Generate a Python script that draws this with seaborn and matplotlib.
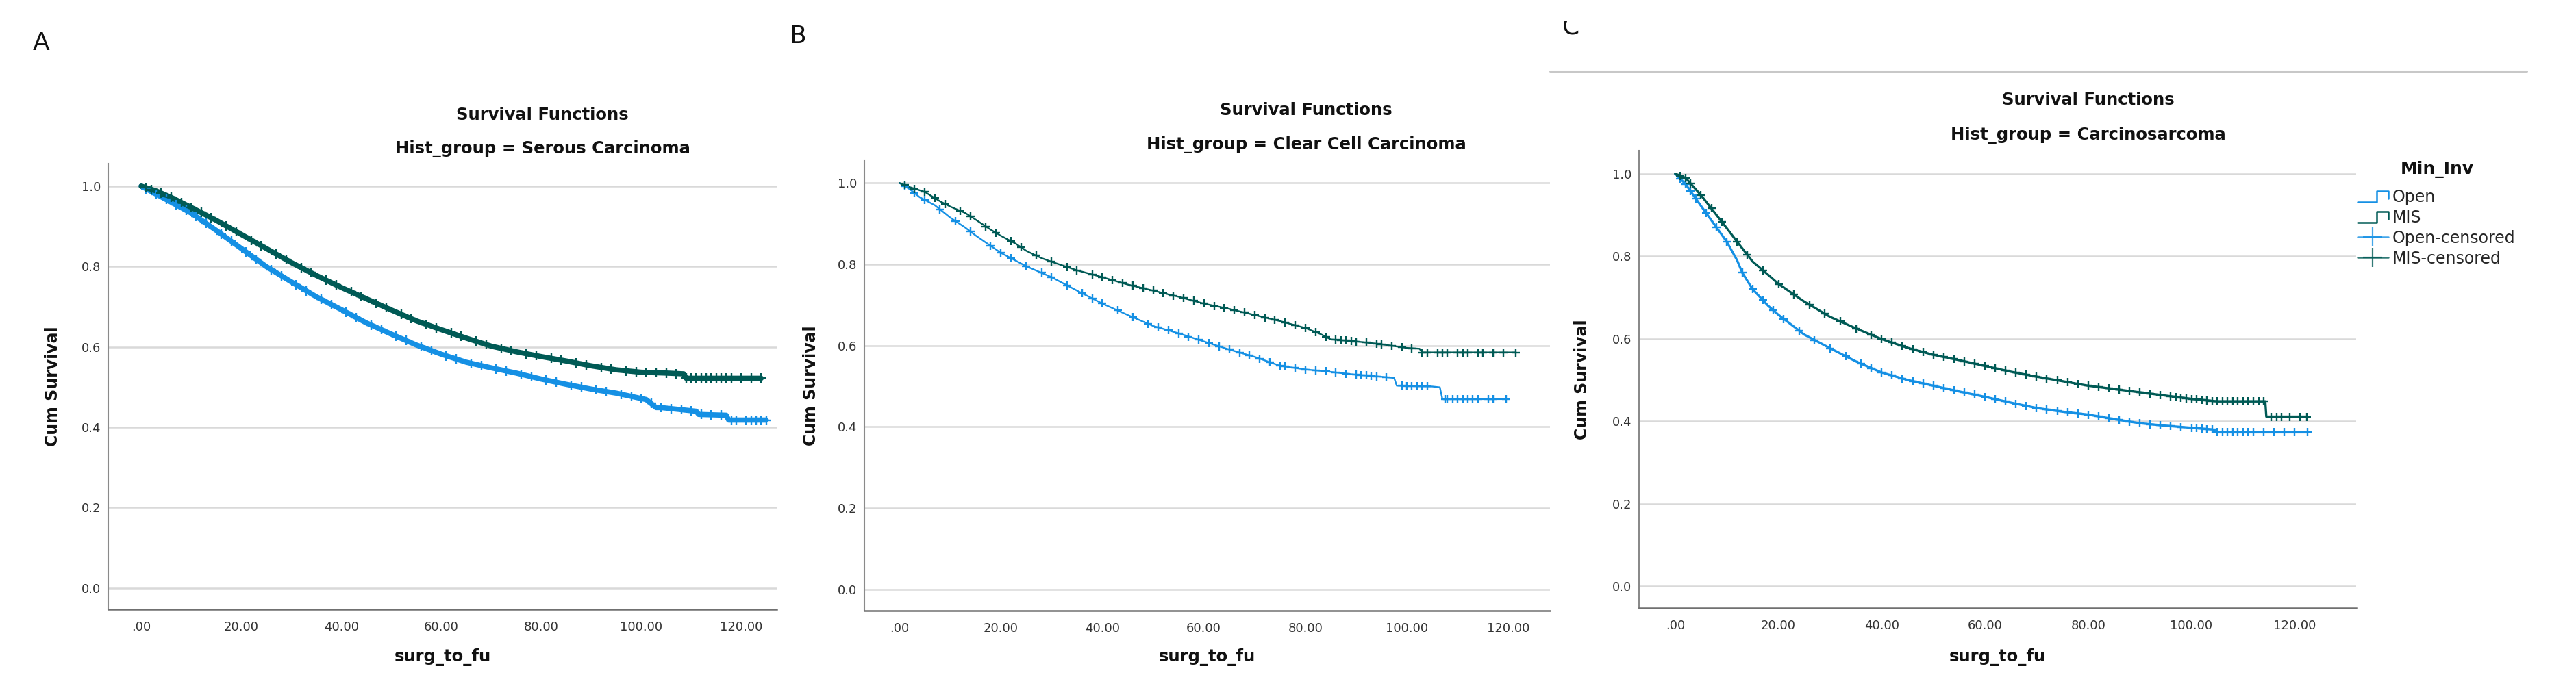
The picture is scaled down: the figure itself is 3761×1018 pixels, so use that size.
import numpy as np
import pandas as pd
import matplotlib
matplotlib.use("Agg")
import matplotlib.pyplot as plt
import seaborn as sns
from matplotlib.lines import Line2D
from matplotlib.legend_handler import HandlerBase
from matplotlib.patches import Rectangle

# ---------------- data ----------------
panel_letters = ["A", "B", "C"]
hist_groups = ["Serous Carcinoma", "Clear Cell Carcinoma", "Carcinosarcoma"]
groups = ["Open", "MIS"]
legend_title = "Min_Inv"
legend_labels = ["Open", "MIS", "Open-censored", "MIS-censored"]
xtick_vals = [0, 20, 40, 60, 80, 100, 120]
xtick_labels = [".00", "20.00", "40.00", "60.00", "80.00", "100.00", "120.00"]
ytick_vals = [0.0, 0.2, 0.4, 0.6, 0.8, 1.0]
ytick_labels = ["0.0", "0.2", "0.4", "0.6", "0.8", "1.0"]

# Panel A - Serous Carcinoma  (time, cumulative survival); repeated times are vertical drops
A_open_t = [0, 3, 6, 10, 15, 20, 25, 30, 35, 40, 45, 50, 55, 60, 65, 70, 75, 80, 85, 90, 95, 101, 103, 104, 111,
            111.5, 117, 117.5, 125]
A_open_s = [1.0, 0.98, 0.96, 0.933, 0.89, 0.845, 0.80, 0.762, 0.725, 0.693, 0.66, 0.632, 0.605, 0.582, 0.562, 0.548,
            0.535, 0.52, 0.507, 0.495, 0.485, 0.469, 0.449, 0.449, 0.44, 0.432, 0.43, 0.418, 0.418]
A_open_cens = [1, 3, 5, 7, 9, 11, 13, 16, 18, 21, 23, 26, 28, 31, 33, 36, 38, 41, 43, 46, 48, 51, 53, 56, 58, 61, 63,
               66, 68, 71, 73, 76, 78, 81, 83, 86, 88, 91, 93, 96, 98, 100, 102, 104, 106, 108, 110, 112, 114, 116,
               118, 119, 121, 122, 123, 124, 125]
A_mis_t = [0, 3, 6, 10, 15, 20, 25, 30, 35, 40, 45, 50, 55, 60, 65, 70, 75, 80, 85, 90, 95, 100, 105, 108.5, 109, 124]
A_mis_s = [1.0, 0.988, 0.972, 0.947, 0.915, 0.88, 0.845, 0.81, 0.778, 0.748, 0.72, 0.692, 0.665, 0.643, 0.622,
           0.602, 0.588, 0.576, 0.565, 0.553, 0.543, 0.537, 0.535, 0.533, 0.522, 0.522]
A_mis_cens = [1, 2, 4, 6, 8, 10, 12, 14, 17, 19, 22, 24, 27, 29, 32, 34, 37, 39, 42, 44, 47, 49, 52, 54, 57, 59, 62,
              64, 67, 69, 72, 74, 77, 79, 82, 84, 87, 89, 92, 94, 97, 99, 101, 103, 105, 107, 109, 110, 111, 112,
              113, 114, 115, 116, 117, 118, 120, 122, 124]

# Panel B - Clear Cell Carcinoma
B_open_t = [0, 2, 4, 7, 10, 13, 15, 18, 20, 25, 30, 35, 40, 45, 50, 55, 60, 65, 70, 75, 80, 85, 90, 95, 97.5, 98,
            105, 106.5, 107, 119.5]
B_open_s = [1.0, 0.985, 0.965, 0.945, 0.915, 0.89, 0.871, 0.845, 0.828, 0.795, 0.768, 0.735, 0.703, 0.675, 0.648,
            0.63, 0.61, 0.59, 0.572, 0.55, 0.541, 0.535, 0.528, 0.523, 0.52, 0.501, 0.499, 0.497, 0.468, 0.468]
B_open_cens = [1, 3, 5, 8, 11, 14, 18, 20, 22, 25, 28, 30, 33, 36, 38, 40, 43, 46, 49, 51, 53, 55, 57, 59, 61, 63,
               65, 67, 69, 71, 73, 75, 76, 78, 80, 82, 84, 86, 88, 90, 91, 92, 93, 94, 96, 99, 100, 101, 102, 103,
               104, 107.5, 108, 109, 110, 111, 112, 113, 114, 116, 117, 119.5]
B_mis_t = [0, 2, 5, 8, 10, 13, 15, 18, 20, 23, 25, 28, 30, 35, 40, 45, 50, 55, 60, 65, 70, 75, 80, 83, 85, 90, 95,
           100, 102.5, 103, 121.5]
B_mis_s = [1.0, 0.99, 0.978, 0.955, 0.942, 0.926, 0.91, 0.885, 0.87, 0.85, 0.833, 0.815, 0.806, 0.785, 0.768, 0.75,
           0.735, 0.72, 0.703, 0.69, 0.675, 0.66, 0.643, 0.628, 0.615, 0.61, 0.603, 0.594, 0.592, 0.583, 0.583]
B_mis_cens = [1, 3, 5, 7, 9, 12, 14, 17, 19, 22, 24, 27, 30, 33, 35, 38, 40, 42, 44, 46, 48, 50, 52, 54, 56, 58, 60,
              62, 64, 66, 68, 70, 72, 74, 76, 78, 80, 82, 84, 86, 87, 88, 89, 90, 92, 94, 95, 97, 99, 101, 103, 104,
              106, 107, 108, 110, 111, 112, 114, 115, 117, 119, 121.5]

# Panel C - Carcinosarcoma
C_open_t = [0, 2, 5, 8, 10, 12, 13, 15, 18, 20, 25, 30, 35, 40, 45, 50, 55, 60, 65, 70, 75, 80, 85, 90, 95, 100,
            104, 105, 122.5]
C_open_s = [1.0, 0.975, 0.922, 0.87, 0.835, 0.79, 0.76, 0.72, 0.68, 0.658, 0.61, 0.577, 0.545, 0.518, 0.5, 0.486,
            0.472, 0.459, 0.445, 0.432, 0.423, 0.416, 0.405, 0.395, 0.389, 0.384, 0.38, 0.373, 0.373]
C_open_cens = [1, 2, 3, 4, 6, 8, 10, 13, 15, 17, 19, 21, 24, 27, 30, 33, 36, 38, 40, 42, 44, 46, 48, 50, 52, 54, 56,
               58, 60, 62, 64, 66, 68, 70, 72, 74, 76, 78, 80, 82, 84, 86, 88, 90, 92, 94, 96, 98, 100, 101, 102,
               103, 104, 105, 106, 107, 108, 109, 110, 111, 112, 114, 116, 118, 120, 122.5]
C_mis_t = [0, 2, 5, 8, 10, 12, 15, 18, 20, 25, 30, 35, 40, 45, 50, 55, 60, 65, 70, 75, 80, 85, 90, 95, 100, 105,
           114.3, 114.5, 122.3]
C_mis_s = [1.0, 0.99, 0.948, 0.9, 0.868, 0.835, 0.787, 0.755, 0.733, 0.69, 0.653, 0.625, 0.599, 0.578, 0.561, 0.548,
           0.534, 0.52, 0.508, 0.497, 0.486, 0.478, 0.47, 0.462, 0.454, 0.448, 0.448, 0.411, 0.411]
C_mis_cens = [1, 2, 3, 5, 7, 9, 12, 14, 17, 20, 23, 26, 29, 32, 35, 38, 40, 42, 44, 46, 48, 50, 52, 54, 56, 58, 60,
              62, 64, 66, 68, 70, 72, 74, 76, 78, 80, 82, 84, 86, 88, 90, 92, 94, 96, 97, 98, 99, 100, 101, 102, 103,
              104, 105, 106, 107, 108, 109, 110, 111, 112, 113, 114, 115.5, 116.5, 117.5, 119, 121, 122.3]

curves = {
    "A": {"Open": (A_open_t, A_open_s, A_open_cens), "MIS": (A_mis_t, A_mis_s, A_mis_cens)},
    "B": {"Open": (B_open_t, B_open_s, B_open_cens), "MIS": (B_mis_t, B_mis_s, B_mis_cens)},
    "C": {"Open": (C_open_t, C_open_s, C_open_cens), "MIS": (C_mis_t, C_mis_s, C_mis_cens)},
}

# ---------------- style ----------------
sns.set_theme(style="white")
plt.rcParams["font.family"] = ["DejaVu Sans"]

colors = {"Open": "#1590e4", "MIS": "#005a55"}
W, H = 3761, 1018
fig = plt.figure(figsize=(W / 100, H / 100), dpi=100)


def fx(px):
    return px / W


def fy(py):
    return 1 - py / H


# pixel layout per panel
layout = {
    "A": dict(l=158, r=1134, t=239, b=890, xlim=(-6.6, 127.1), tx=792, ty1=168, ty2=217, ylx=77,
              let=(60, 63), lw=5.5, ms=90),
    "B": dict(l=1262, r=2263, t=234, b=892, xlim=(-6.9, 128.2), tx=1907, ty1=161, ty2=212, ylx=1184,
              let=(1165, 53), lw=1.7, ms=85),
    "C": dict(l=2393, r=3440, t=220, b=888, xlim=(-7.0, 131.9), tx=3049, ty1=146, ty2=197, ylx=2310,
              let=(2294, 40), lw=2.4, ms=85),
}


def surv_at(t, s, times):
    return np.interp(np.asarray(times, float), np.asarray(t, float), np.asarray(s, float))


axes = []
for letter, hg in zip(panel_letters, hist_groups):
    L = layout[letter]
    ax = fig.add_axes([fx(L["l"]), fy(L["b"]), fx(L["r"] - L["l"]), (L["b"] - L["t"]) / H])
    axes.append(ax)
    for g in groups:
        t, s, cens = curves[letter][g]
        df = pd.DataFrame({"time": t, "surv": s})
        sns.lineplot(data=df, x="time", y="surv", ax=ax, color=colors[g], lw=L["lw"],
                     sort=False, estimator=None, zorder=3)
        cdf = pd.DataFrame({"time": cens, "surv": surv_at(t, s, cens)})
        sns.scatterplot(data=cdf, x="time", y="surv", ax=ax, color=colors[g], marker="+",
                        s=L["ms"], linewidth=1.7, zorder=4)
    ax.set_xlim(*L["xlim"])
    ax.set_ylim(-0.053, 1.056)
    ax.set_xticks(xtick_vals)
    ax.set_xticklabels(xtick_labels)
    ax.set_yticks(ytick_vals)
    ax.set_yticklabels(ytick_labels)
    ax.tick_params(axis="both", length=0, labelsize=13, labelcolor="#333333")
    ax.tick_params(axis="x", pad=12)
    ax.tick_params(axis="y", pad=8)
    ax.yaxis.grid(True, color="#d9d9d9", lw=1.8, zorder=0)
    ax.xaxis.grid(False)
    ax.set_axisbelow(True)
    for sp in ["top", "right"]:
        ax.spines[sp].set_visible(False)
    ax.spines["left"].set_color("#8a8a8a")
    ax.spines["left"].set_linewidth(1.5)
    ax.spines["bottom"].set_color("#707070")
    ax.spines["bottom"].set_linewidth(1.8)

    ax.set_xlabel("surg_to_fu", fontsize=17.5, fontweight="bold", color="#111111")
    ax.xaxis.label.set_va("center")
    ax.xaxis.set_label_coords(0.5, -(960 - L["b"]) / (L["b"] - L["t"]))
    ax.set_ylabel("Cum Survival", fontsize=17, fontweight="bold", color="#111111")
    ax.yaxis.label.set_va("center")
    ax.yaxis.set_label_coords((L["ylx"] - L["l"]) / (L["r"] - L["l"]), 0.5)

    fig.text(fx(L["tx"]), fy(L["ty1"]), "Survival Functions", ha="center", va="center",
             fontsize=17.5, fontweight="bold", color="#111111")
    fig.text(fx(L["tx"]), fy(L["ty2"]), f"Hist_group = {hg}", ha="center", va="center",
             fontsize=17.5, fontweight="bold", color="#111111")
    fig.text(fx(L["let"][0]), fy(L["let"][1]), letter, ha="center", va="center",
             fontsize=26, color="#111111")

# clip the top of the "C" letter as in the reference, and the separator line above panel C
fig.add_artist(Rectangle((fx(2250), fy(30)), fx(100), 30 / H, transform=fig.transFigure,
                         facecolor="white", edgecolor="none", zorder=10))
fig.add_artist(Line2D([fx(2263), fx(3689)], [fy(104), fy(104)], transform=fig.transFigure,
                      color="#c8c8c8", lw=2.2))


# ---------------- legend (panel C) ----------------
class StepHandler(HandlerBase):
    def create_artists(self, legend, orig_handle, xdescent, ydescent, width, height, fontsize, trans):
        x0, y0 = -xdescent, -ydescent
        xs = [x0, x0 + 0.62 * width, x0 + 0.62 * width, x0 + width, x0 + width]
        ys = [y0 + 0.05 * height, y0 + 0.05 * height, y0 + 0.95 * height, y0 + 0.95 * height, y0 + 0.3 * height]
        ln = Line2D(xs, ys, color=orig_handle.get_color(), lw=1.8, transform=trans)
        return [ln]


h_open = Line2D([], [], color=colors["Open"])
h_mis = Line2D([], [], color=colors["MIS"])
h_open_c = Line2D([], [], color=colors["Open"], marker="+", markersize=20, mew=1.6, lw=1.8, alpha=0.8)
h_mis_c = Line2D([], [], color=colors["MIS"], marker="+", markersize=20, mew=1.6, lw=1.8, alpha=0.8)
axC = axes[2]
leg = axC.legend([h_open, h_mis, h_open_c, h_mis_c], legend_labels,
                 handler_map={h_open: StepHandler(), h_mis: StepHandler()},
                 loc="upper left", bbox_to_anchor=(fx(3442), fy(276)), bbox_transform=fig.transFigure,
                 frameon=False, fontsize=17,
                 handlelength=1.9, handleheight=0.8, handletextpad=0.25, labelspacing=0.25,
                 borderpad=0, borderaxespad=0)
fig.text(fx(3558), fy(248), legend_title, ha="center", va="center", fontsize=18,
         fontweight="bold", color="#111111")

fig.savefig("out.png", dpi=100, facecolor="white")
